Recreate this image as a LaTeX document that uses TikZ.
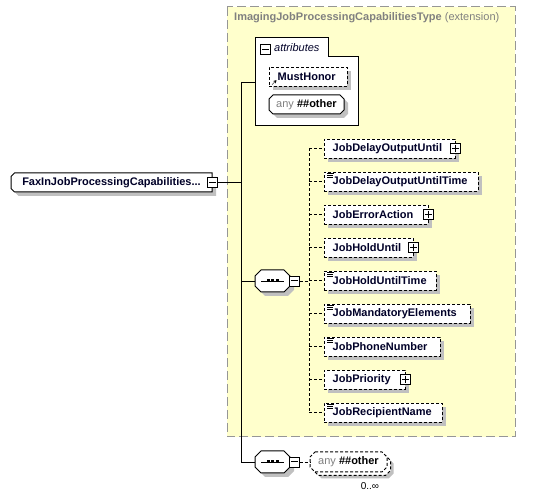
\documentclass[tikz,border=0pt]{standalone}
\usepackage{fontspec}
\setmainfont{Liberation Sans}
\usetikzlibrary{shadows,calc,arrows.meta}
\definecolor{ybg}{RGB}{255,255,204}
\definecolor{ybord}{RGB}{150,150,150}
\definecolor{shgray}{RGB}{192,192,192}
\definecolor{namecol}{RGB}{0,0,40}
\definecolor{anygray}{RGB}{128,128,128}
\pgfdeclarelayer{bg}
\pgfsetlayers{bg,main}
% chamfered outline around a node: node, chamfer, options, dx, dy
\newcommand\chpath[5]{%
  \draw[#3] ($(#1.north west)+(#2+#4,#5)$) -- ($(#1.north east)+(-#2+#4,#5)$)
   -- ($(#1.north east)+(#4,#2+#5)$) -- ($(#1.south east)+(#4,-#2+#5)$)
   -- ($(#1.south east)+(-#2+#4,#5)$) -- ($(#1.south west)+(#2+#4,#5)$)
   -- ($(#1.south west)+(#4,-#2+#5)$) -- ($(#1.north west)+(#4,#2+#5)$) -- cycle;}
\newcommand\lchpath[5]{%
  \draw[#3] ($(#1.north west)+(#2+#4,#5)$) -- ($(#1.north east)+(#4,#5)$)
   -- ($(#1.south east)+(#4,#5)$) -- ($(#1.south west)+(#2+#4,#5)$)
   -- ($(#1.south west)+(#4,-#2+#5)$) -- ($(#1.north west)+(#4,#2+#5)$) -- cycle;}
\begin{document}
\begin{tikzpicture}[x=1pt,y=-1pt,line width=1pt,
  every node/.style={font=\fontsize{11}{13}\selectfont},
  gshadow/.style={general shadow={fill=shgray, shadow xshift=4pt, shadow yshift=-4pt}},
  dsh/.style={dash pattern=on 3pt off 2pt},
  elem/.style={draw=black, dsh, fill=white, gshadow, anchor=west, minimum height=19pt,
    inner xsep=8.5pt, inner ysep=0pt, align=left, text=namecol,
    font=\fontsize{11}{13}\selectfont\bfseries},
  pmbox/.style={draw=black, fill=white, minimum size=10pt, inner sep=0pt, solid},
  plusbox/.style={pmbox, path picture={
     \draw[line width=1pt] ($(path picture bounding box.center)+(-3.5,0)$) -- ++(7,0);
     \draw[line width=1pt] ($(path picture bounding box.center)+(0,-3.5)$) -- ++(0,7);}},
  minusbox/.style={pmbox, path picture={
     \draw[line width=1pt] ($(path picture bounding box.center)+(-3.5,0)$) -- ++(7,0);}},
  bare/.style={inner sep=0pt, outer sep=0pt, draw=none},
]
\useasboundingbox (0,0) rectangle (558,497);
\begin{pgfonlayer}{bg}
\begin{scope}[line width=1pt]
\fill[white] (0,0) rectangle (558,497);
% extension box
\draw[ybord, dash pattern=on 9pt off 4pt, fill=ybg] (227,7) rectangle (515,437);
% attributes container
\draw[fill=white] (255,126) -- (255,38) -- (328,38) -- (328,57) -- (358,57) -- (358,126) -- cycle;
\end{scope}
\end{pgfonlayer}

\node[anchor=west, text=anygray, inner sep=0pt] (title) at (234,18)
  {\bfseries ImagingJobProcessingCapabilitiesType \mdseries(extension)};
\coordinate (attrin) at (255,82);
\node[minusbox] (attrmin) at (265.5,49.5) {};
\node[anchor=west, inner sep=0pt, text=namecol] (attrlbl) at (274,48) {\itshape attributes};

\node[elem] (mh) at (269,77) {\parbox{61pt}{MustHonor}};
\draw[-{Stealth[length=3pt,width=3.5pt]}] ($(mh.south west)+(3,-2)$) -- ++(4.5,-4.5);
\node[bare, minimum width=75pt, minimum height=19pt] (any1) at (306.5,104.5)
  {{\color{anygray}any}\ \textbf{\#\#other}};

% main element
\node[bare, minimum width=201pt, minimum height=19pt, anchor=west,
  font=\fontsize{11}{13}\selectfont\bfseries, text=namecol] (fax) at (11,182.5)
  {FaxInJobProcessingCapabilities...\hspace{8pt}};
\node[minusbox] (faxmin) at (212.5,182.5) {};

% sequences
\coordinate (trunk) at (241,82);
\node[bare, minimum width=35pt, minimum height=22pt] (s1) at (272.5,281) {};
\node[bare, minimum width=35pt, minimum height=22pt] (s2) at (272.5,462) {};

% bottom any
\node[bare, minimum width=77pt, minimum height=20pt] (any2b) at (352,465.5) {};
\node[bare, minimum width=77pt, minimum height=20pt] (any2) at (348.5,462)
  {{\color{anygray}any}\ \textbf{\#\#other}};

\begin{pgfonlayer}{bg}
\begin{scope}[line width=1pt]
\chpath{any1}{4}{fill=shgray,draw=none}{4}{4}
\chpath{any1}{4}{fill=white,draw=black}{0}{0}
\lchpath{fax}{3.5}{fill=shgray,draw=none}{4}{4}
\lchpath{fax}{3.5}{fill=white,draw=black}{0}{0}
\chpath{s1}{6}{fill=shgray,draw=none}{4}{4}
\chpath{s1}{6}{fill=white,draw=black}{0}{0}
\chpath{s2}{6}{fill=shgray,draw=none}{4}{4}
\chpath{s2}{6}{fill=white,draw=black}{0}{0}
\chpath{any2b}{5}{fill=shgray,draw=none}{3}{3}
\chpath{any2b}{5}{fill=white,draw=black,dsh}{0}{0}
\chpath{any2}{5}{fill=white,draw=black,dsh}{0}{0}
\end{scope}
\end{pgfonlayer}

\node[minusbox] (s1min) at (294.5,281) {};
\node[minusbox] (s2min) at (294.5,462) {};
\foreach \s in {s1,s2}{
  \draw ($(\s.center)+(-11.5,0)$) -- ($(\s.center)+(11.5,0)$);
  \foreach \dx in {-4.5,0,4.5}
    \fill ($(\s.center)+(\dx-1.5,-1.5)$) rectangle ++(3,3);
}
\draw (faxmin.east) -- (faxmin.east -| trunk);
\draw (trunk) -- (trunk |- s2.west);
\draw (trunk) -- (attrin);
\draw (trunk |- s1.west) -- (s1.west);
\draw (trunk |- s2.west) -- (s2.west);

% children
\coordinate (vx) at (309,0);
\foreach \i/\nm/\yy/\w in {
  1/JobDelayOutputUntil/148.5/131,
  2/JobDelayOutputUntilTime/181.5/154,
  3/JobErrorAction/214.5/104,
  4/JobHoldUntil/247.5/89,
  5/JobHoldUntilTime/280.5/112,
  6/JobMandatoryElements/313.5/146,
  7/JobPhoneNumber/346.5/116,
  8/JobPriority/379.5/81,
  9/JobRecipientName/412.5/118}{
  \pgfmathsetmacro\tw{\w-17}
  \node[elem] (e\i) at (324,\yy) {\parbox{\tw pt}{\nm}};
  \draw[dsh] (vx |- e\i.west) -- (e\i.west);
}
\draw[dsh] (s1min.east) -- (s1min.east -| vx);
\draw[dsh] (vx |- e1.west) -- (vx |- e9.west);

\foreach \i in {1,3,4,8}{
  \node[plusbox] (p\i) at (e\i.east) {};
}
\foreach \i in {2,5,6,7,9}{
  \draw[line width=0.8pt] ($(e\i.north west)+(3,1.5)$) -- ++(7,0);
  \draw[line width=0.8pt] ($(e\i.north west)+(3,3.5)$) -- ++(6,0);
  \draw[line width=0.8pt] ($(e\i.north west)+(3,5.5)$) -- ++(6,0);
}

\draw[dsh] (s2min.east) -- (any2.west);
\node[inner sep=0pt, font=\fontsize{10}{12}\selectfont] (occ) at (370,486) {0..∞};
\end{tikzpicture}
\end{document}
